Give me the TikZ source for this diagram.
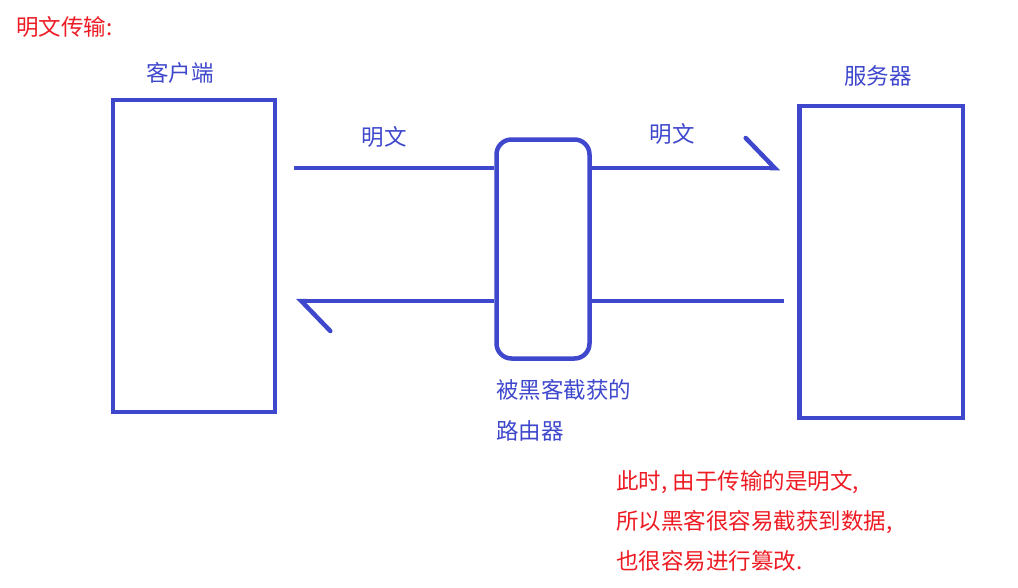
\documentclass[tikz,border=0pt]{standalone}
\usepackage{fontspec}
\newfontfamily\cjk{Noto Sans CJK SC}
\usepackage{xcolor}
\definecolor{paintblue}{HTML}{3F48CC}
\definecolor{paintred}{HTML}{ED1C24}
\usepackage{tikz}
\usetikzlibrary{arrows.meta,positioning,calc}

\begin{document}
\begin{tikzpicture}[x=1pt, y=-1pt, line width=4.5pt,
    >={Straight Barb[left, length=29pt, width=60pt, line cap=round]},
    box/.style={draw=paintblue, inner sep=0pt},
    lbl/.style={text=paintblue, inner sep=0pt, font=\cjk\fontsize{22.5}{41}\selectfont},
    note/.style={text=paintred, inner sep=0pt, font=\cjk\fontsize{22.5}{40}\selectfont},
    wire/.style={draw=paintblue}]
  \useasboundingbox (0,0) rectangle (1018,587);

  % title
  \node[note, anchor=west] (title) at (14,27) {明文传输:};

  % the two ends
  \node[box, minimum width=162pt, minimum height=312pt] (client) at (194,256) {};
  \node[box, minimum width=163.5pt, minimum height=312pt] (server) at (881,262) {};
  \node[lbl] (clientlbl) at (180,73) {客户端};
  \node[lbl] (serverlbl) at (878,76) {服务器};

  % router in the middle
  \node[box, rounded corners=15pt, minimum width=93pt, minimum height=219pt] (router) at (543,249) {};
  \node[lbl, anchor=west, align=left] (routerlbl) at (494,410) {被黑客截获的\\路由器};

  % request: client -> server
  \coordinate (reqstart) at (294,168);
  \coordinate (reqend) at (780,168);
  \draw[wire] (reqstart) -- (router.west |- reqstart);
  \draw[wire, ->] (router.east |- reqstart) -- (reqend);
  \node[lbl] (reqlbl1) at (384,137) {明文};
  \node[lbl] (reqlbl2) at (672,134) {明文};

  % response: server -> client
  \coordinate (respstart) at (784,301);
  \coordinate (respend) at (296,301);
  \draw[wire] (respstart) -- (router.east |- respstart);
  \draw[wire, ->] (router.west |- respstart) -- (respend);

  % remark
  \node[note, anchor=west, align=left] (remark) at (614,521)
    {此时, 由于传输的是明文,\\所以黑客很容易截获到数据,\\也很容易进行篡改.};
\end{tikzpicture}
\end{document}
